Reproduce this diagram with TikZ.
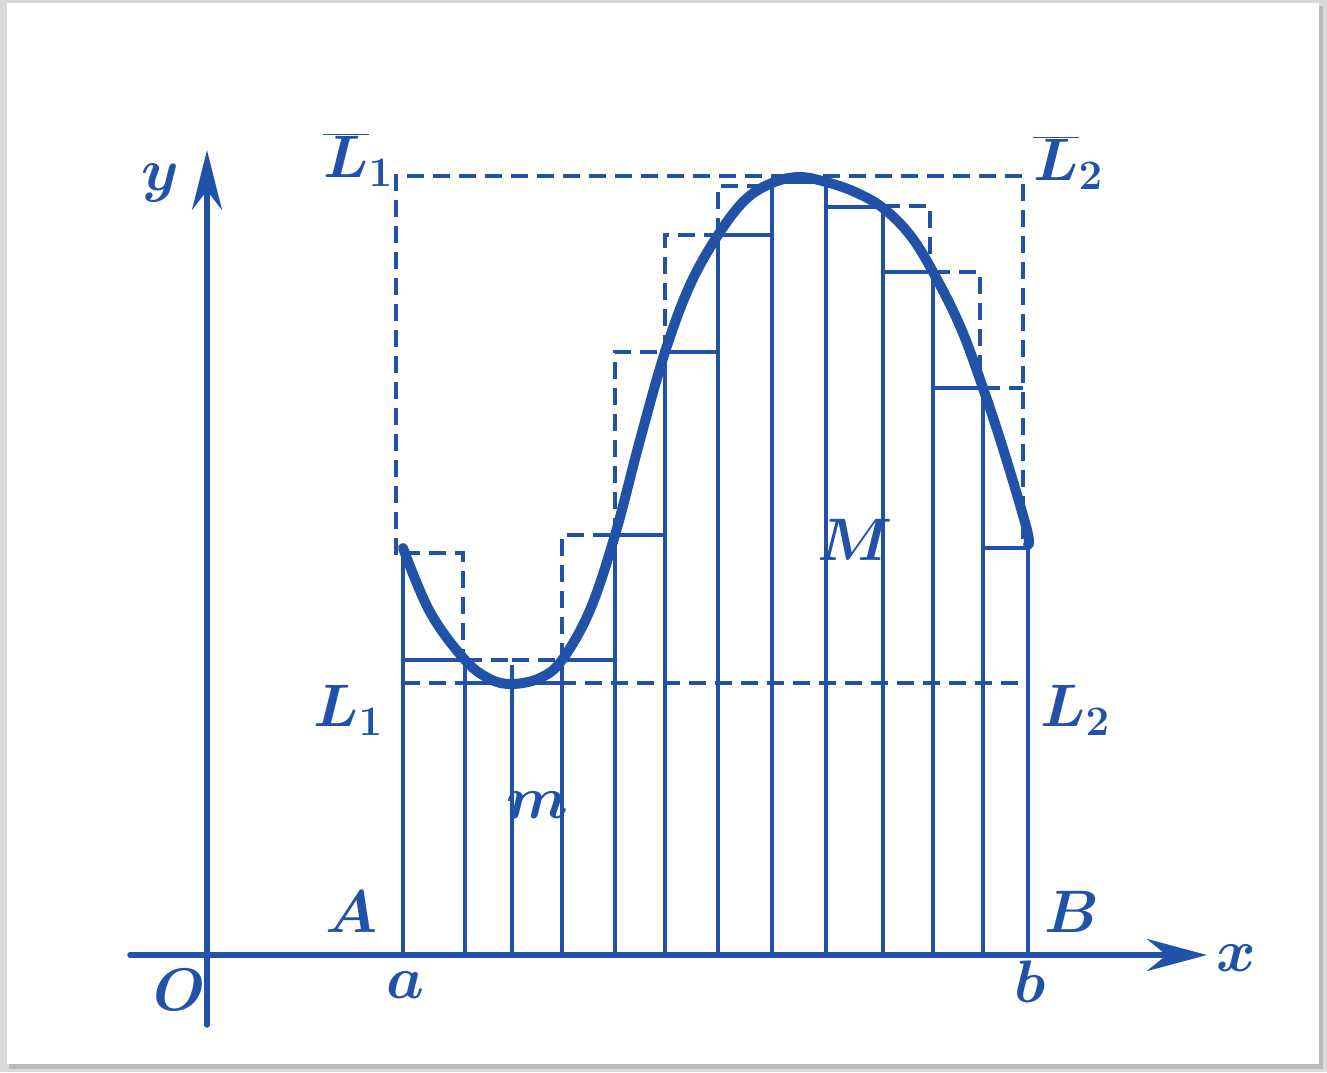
\documentclass[tikz,border=0pt]{standalone}
\usepackage{fix-cm}
\usetikzlibrary{arrows.meta}
\definecolor{ink}{RGB}{33,82,168}
\begin{document}
\begin{tikzpicture}[x=1pt,y=-1pt,
  inkline/.style={draw=ink,line width=4.6pt,line cap=round,line join=round},
  dashline/.style={draw=ink,line width=4.6pt,dash pattern=on 17pt off 9pt},
  curveline/.style={draw=ink,line width=10pt,line cap=round,line join=round},
  axisline/.style={draw=ink,line width=5.5pt,line cap=round},
  lbl/.style={text=ink,font=\fontsize{60}{60}\selectfont\boldmath,inner sep=0pt}]
\useasboundingbox (0,0) rectangle (1327,1072);
% page and card
\fill[gray!30] (0,0) rectangle (1327,1072);
\fill[gray!55] (9,6) rectangle (1323,1069);
\fill[white] (7,3) rectangle (1319,1064);

% axes
\coordinate (ybot) at (207,1025);
\coordinate (ytop) at (207,150);
\coordinate (xleft) at (130,955);
\coordinate (xright) at (1207,955);
\draw[axisline,-{Stealth[length=60pt,width=30pt]}] (ybot) -- (ytop);
\draw[axisline,-{Stealth[length=60pt,width=32pt]}] (xleft) -- (xright);

% partition vertical lines (solid, from axis to curve)
\foreach \px/\fy [count=\i] in {403/553,465/660,512/683,562/660,615/535,665/352,718/235,772/182,826/182,883/207,933/272,983/388,1028/548}{
  \coordinate (base\i) at (\px,955);
  \coordinate (top\i) at (\px,\fy);
  \draw[inkline] (base\i) -- (top\i);
}

% lower (inscribed) rectangles - solid tops
\foreach \xa/\xb/\h in {403/465/660,465/512/683,512/562/683,562/615/660,615/665/535,665/718/352,718/772/235,772/826/182,826/883/207,883/933/272,933/983/388,983/1028/548}{
  \draw[inkline] (\xa,\h) -- (\xb,\h);
}

% upper (circumscribed) rectangles - dashed
\draw[dashline] (403,553) -- (463,553) -- (463,660);
\draw[dashline] (465,660) -- (512,660) -- (512,683);
\draw[dashline] (512,660) -- (562,660);
\draw[dashline] (562,660) -- (562,535) -- (615,535);
\draw[dashline] (615,535) -- (615,352) -- (665,352);
\draw[dashline] (665,352) -- (665,235) -- (718,235);
\draw[dashline] (718,235) -- (718,186) -- (772,186);
\draw[dashline] (883,206) -- (930,206) -- (930,272);
\draw[dashline] (933,272) -- (980,272) -- (980,388);
\draw[dashline] (983,388) -- (1023,388);

% big dashed rectangle (upper bound M) and lower bound line m
\coordinate (Lb1) at (396,176);
\coordinate (Lb2) at (1023,176);
\draw[dashline] (396,555) -- (Lb1) -- (Lb2) -- (1023,545);
\coordinate (L1) at (403,683);
\coordinate (L2) at (1030,683);
\draw[dashline] (L1) -- (L2);

% the curve
\draw[curveline] plot[smooth,tension=0.6] coordinates {
 (403,548) (430,612) (465,660) (490,679) (512,684) (540,678) (562,660)
 (590,610) (615,535) (640,440) (665,352) (690,285) (718,235) (745,200)
 (772,183) (799,177) (826,182) (855,192) (883,208) (910,235) (933,272)
 (960,326) (983,388) (1005,455) (1027,530) (1028,545)};

% labels
\node[lbl] (ly) at (160,183) {$y$};
\node[lbl] (lO) at (180,990) {$O$};
\node[lbl] (lx) at (1236,958) {$x$};
\node[lbl] (la) at (405,985) {$a$};
\node[lbl] (lb) at (1030,982) {$b$};
\node[lbl] (lA) at (352,912) {$A$};
\node[lbl] (lB) at (1072,912) {$B$};
\node[lbl] (lLb1) at (358,160) {$\overline{L}_1$};
\node[lbl] (lLb2) at (1068,163) {$\overline{L}_2$};
\node[lbl] (lL1) at (348,710) {$L_1$};
\node[lbl] (lL2) at (1075,710) {$L_2$};
\node[lbl] (lm) at (537,805) {$m$};
\node[lbl] (lM) at (855,540) {$M$};
\end{tikzpicture}
\end{document}
